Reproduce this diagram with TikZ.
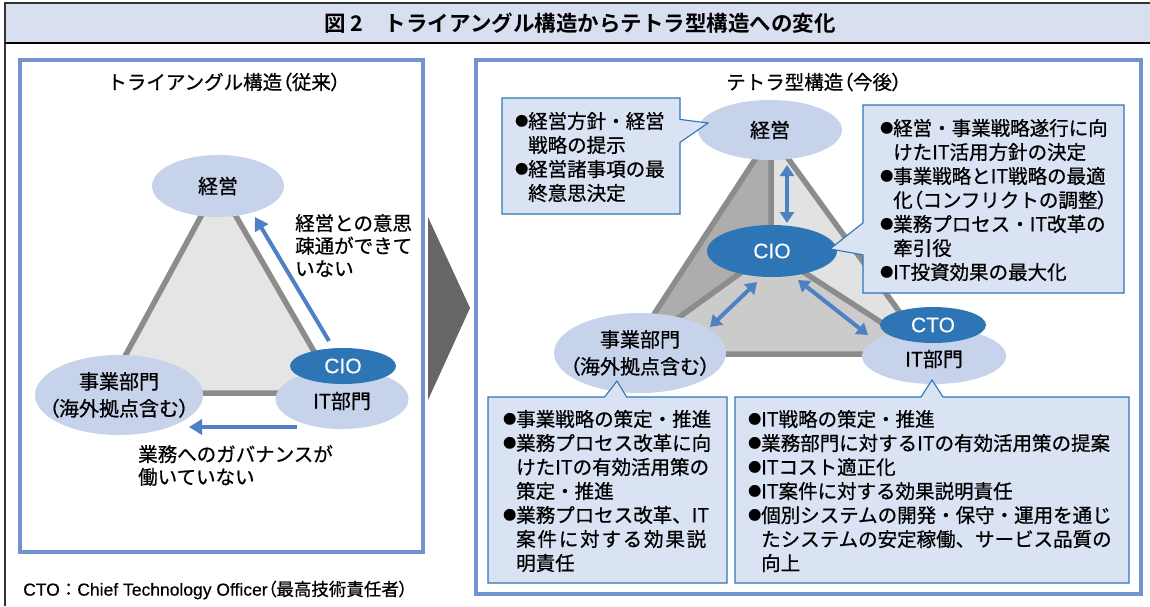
\documentclass[tikz,border=0pt]{standalone}
\usepackage{fontspec}
\setmainfont{Noto Sans CJK JP}[FakeBold=0.7]
\newfontfamily\jpp{Noto Sans CJK JP}[CharacterWidth=AlternateProportional,FakeBold=0.7]
\newfontfamily\jpb{Noto Sans CJK JP Bold}
\newfontfamily\lat{Liberation Sans}[FakeBold=0.4]
\usetikzlibrary{arrows.meta,shapes.geometric,shapes.callouts}
\definecolor{panelblue}{RGB}{114,148,206}
\definecolor{ellfill}{RGB}{198,211,235}
\definecolor{ciofill}{RGB}{46,117,182}
\definecolor{arrblue}{RGB}{78,128,196}
\definecolor{callfill}{RGB}{218,227,243}
\definecolor{callline}{RGB}{46,117,182}
\definecolor{titlefill}{RGB}{216,224,240}
\definecolor{edgegrey}{RGB}{140,140,140}
\definecolor{trifill}{RGB}{229,229,229}
\definecolor{faceL}{RGB}{173,173,173}
\definecolor{faceR}{RGB}{226,226,226}
\definecolor{faceB}{RGB}{203,203,203}
\definecolor{chev}{RGB}{102,102,102}
\newcommand\LP{{\jpp （}}
\newcommand\RP{{\jpp ）}}
\newcommand\bul{\makebox[13pt][l]{\raisebox{2.6pt}{\fontsize{13}{13}\selectfont ●}}}
\newcommand\ind{\hspace*{13pt}}
\begin{document}
\begin{tikzpicture}[x=1pt,y=-1pt,
  ell/.style={ellipse, fill=ellfill, inner sep=0pt},
  lab/.style={inner sep=0pt, align=center, font=\fontsize{20}{27}\selectfont, text=black},
  cio/.style={ellipse, fill=ciofill, inner sep=0pt, text=white, font=\lat\fontsize{21}{21}\selectfont},
  panel/.style={draw=panelblue, line width=3.5pt, fill=white},
  edgeline/.style={draw=edgegrey, line width=5.5pt, line join=round},
  arr/.style={draw=arrblue, line width=4pt, -{Triangle[width=15pt,length=13pt]}},
  darr/.style={draw=arrblue, line width=4pt, {Triangle[width=14pt,length=11pt]}-{Triangle[width=14pt,length=11pt]}},
  callbox/.style={rectangle callout, fill=callfill, draw=callline, line width=1.1pt, inner sep=0pt},
  txt/.style={inner sep=0pt, align=left, font=\fontsize{19.5}{24}\selectfont, text=black},
  lbl/.style={inner sep=0pt, align=left, font=\fontsize{19.5}{22.7}\selectfont, text=black},
  ttl/.style={inner sep=0pt, font=\fontsize{19.5}{22}\selectfont, text=black}
]
\useasboundingbox (0,0) rectangle (1150,606);
% frame and title bar
\fill[titlefill] (5,3) rectangle (1150,43);
\draw[line width=1.2pt, black!80] (1150,3) -- (5,3) -- (5,606);
\draw[line width=1.5pt, black] (5,43) -- (1150,43);
\node[inner sep=0pt, font=\jpb\fontsize{21.5}{22}\selectfont] (title) at (580,23) {図 2　トライアングル構造からテトラ型構造への変化};

% panels
\draw[panel] (20,60) rectangle (423,552);
\draw[panel] (476,60) rectangle (1141,594);
\node[ttl] (lt) at (224,82) {トライアングル構造\LP 従来\RP};
\node[ttl] (rt) at (814,82) {テトラ型構造\LP 今後\RP};

% chevron
\fill[chev] (428,217) -- (470,308) -- (428,400) -- cycle;

% ---------- left triangle ----------
\coordinate (la) at (218,185);
\coordinate (lb) at (105,393);
\coordinate (lc) at (338,393);
\filldraw[edgeline, fill=trifill] (la) -- (lb) -- (lc) -- cycle;

\node[ell, minimum width=132, minimum height=62, label={[lab]center:経営}] (lkei) at (218,186) {};
\node[ell, minimum width=168, minimum height=80, label={[lab]center:事業部門\\\LP 海外拠点含む\RP}] (ljig) at (119,395) {};
\node[ell, minimum width=133, minimum height=60, label={[lab, yshift=-2pt]center:IT部門}] (lit) at (342,399) {};
\node[cio, minimum width=106, minimum height=36] (lcio) at (343,366) {CIO};

\coordinate (a1s) at (329,341);
\coordinate (a1e) at (255,217);
\draw[arr] (a1s) -- (a1e);
\coordinate (a2s) at (297,427);
\coordinate (a2e) at (189,427);
\draw[arr] (a2s) -- (a2e);

\node[lbl, anchor=west] (lab1) at (295,245.5) {経営との意思\\疎通ができて\\いない};
\node[lbl, anchor=west] (lab2) at (138,465.5) {業務へのガバナンスが\\働いていない};

% ---------- right tetrahedron ----------
\coordinate (ta) at (771,135);
\coordinate (tc) at (771,251);
\coordinate (tl) at (628,354);
\coordinate (tr) at (930,354);
\fill[faceL] (ta) -- (tc) -- (tl) -- cycle;
\fill[faceR] (ta) -- (tc) -- (tr) -- cycle;
\fill[faceB] (tl) -- (tc) -- (tr) -- cycle;
\draw[edgeline] (ta) -- (tl) -- (tr) -- cycle;
\draw[edgeline] (ta) -- (tc) (tc) -- (tl) (tc) -- (tr);

\node[ell, minimum width=144, minimum height=60, label={[lab]center:経営}] (rkei) at (770,130) {};
\node[ell, minimum width=172, minimum height=80, label={[lab]center:事業部門\\\LP 海外拠点含む\RP}] (rjig) at (640,353) {};
\node[ell, minimum width=144, minimum height=56, label={[lab, yshift=-3pt]center:IT部門}] (rit) at (934,356) {};
\node[cio, minimum width=106, minimum height=36] (rcto) at (933,325) {CTO};
\node[cio, minimum width=130, minimum height=52] (rcio) at (772,251) {CIO};

\coordinate (d1a) at (787,165);
\coordinate (d1b) at (787,223);
\draw[darr] (d1a) -- (d1b);
\coordinate (d2a) at (757,282);
\coordinate (d2b) at (710,327);
\draw[darr] (d2a) -- (d2b);
\coordinate (d3a) at (798,280);
\coordinate (d3b) at (868,335);
\draw[darr] (d3a) -- (d3b);

% ---------- callouts ----------
\coordinate (p1) at (708,123);
\coordinate (p2) at (830,249);
\coordinate (p3) at (617,381);
\coordinate (p4) at (932,380);
\node[callbox, minimum width=178, minimum height=116, callout absolute pointer={(p1)}, callout pointer width=23pt] (c1) at (591,156) {};
\node[callbox, minimum width=261, minimum height=188, callout absolute pointer={(p2)}, callout pointer width=32pt] (c2) at (993.5,199) {};
\node[callbox, minimum width=239, minimum height=186, callout absolute pointer={(p3)}, callout pointer width=22pt] (c3) at (607.5,490) {};
\node[callbox, minimum width=394, minimum height=186, callout absolute pointer={(p4)}, callout pointer width=22pt] (c4) at (932,490) {};

\node[txt, anchor=west] (t1) at (515,157) {\bul 経営方針・経営\\\ind 戦略の提示\\\bul 経営諸事項の最\\\ind 終意思決定};
\node[txt, anchor=west] (t2) at (880,200) {\bul 経営・事業戦略遂行に向\\\ind けたIT活用方針の決定\\\bul 事業戦略とIT戦略の最適\\\ind 化\LP コンフリクトの調整\RP\\\bul 業務プロセス・IT改革の\\\ind 牽引役\\\bul IT投資効果の最大化};
\node[txt, anchor=west] (t3) at (503,491) {\bul 事業戦略の策定・推進\\\bul 業務プロセス改革に向\\\ind けたITの有効活用策の\\\ind 策定・推進\\\bul 業務プロセス改革、IT\\\ind \makebox[190pt][l]{案\hfill 件\hfill に\hfill 対\hfill す\hfill る\hfill 効\hfill 果\hfill 説}\\\ind 明責任};
\node[txt, anchor=west] (t4) at (748,491) {\bul IT戦略の策定・推進\\\bul 業務部門に対するITの有効活用策の提案\\\bul ITコスト適正化\\\bul IT案件に対する効果説明責任\\\bul 個別システムの開発・保守・運用を通じ\\\ind たシステムの安定稼働、サービス品質の\\\ind 向上};

% footnote
\node[inner sep=0pt, anchor=west, font=\fontsize{17.5}{20}\selectfont] (foot) at (23,590) {{\lat CTO}：{\lat Chief Technology Officer}\LP 最高技術責任者\RP};
\end{tikzpicture}
\end{document}
